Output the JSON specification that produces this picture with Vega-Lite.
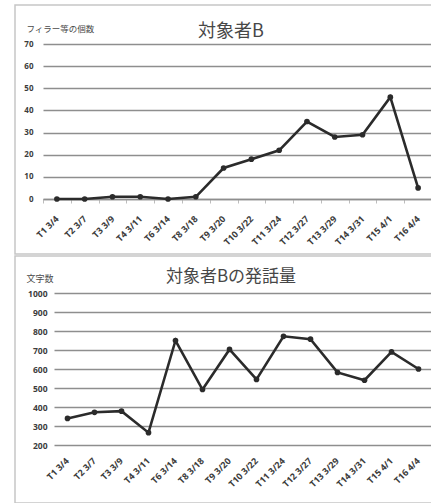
{
  "$schema": "https://vega.github.io/schema/vega-lite/v6.json",
  "padding": {"left": 11, "top": 4, "right": 0, "bottom": 3},
  "spacing": 0,
  "background": "white",
  "data": {
    "values": [
      {"session": "T1 3/4", "fillers": 0, "chars": 340},
      {"session": "T2 3/7", "fillers": 0, "chars": 372},
      {"session": "T3 3/9", "fillers": 1, "chars": 378},
      {"session": "T4 3/11", "fillers": 1, "chars": 265},
      {"session": "T6 3/14", "fillers": 0, "chars": 750},
      {"session": "T8 3/18", "fillers": 1, "chars": 492},
      {"session": "T9 3/20", "fillers": 14, "chars": 703},
      {"session": "T10 3/22", "fillers": 18, "chars": 545},
      {"session": "T11 3/24", "fillers": 22, "chars": 772},
      {"session": "T12 3/27", "fillers": 35, "chars": 757},
      {"session": "T13 3/29", "fillers": 28, "chars": 582},
      {"session": "T14 3/31", "fillers": 29, "chars": 541},
      {"session": "T15 4/1", "fillers": 46, "chars": 690},
      {"session": "T16 4/4", "fillers": 5, "chars": 600}
    ]
  },
  "config": {
    "view": {"stroke": "#c6c6c6", "strokeWidth": 1.5},
    "font": "Noto Sans CJK JP",
    "title": {"font": "Noto Sans CJK JP", "fontWeight": "normal", "color": "#474747", "fontSize": 17, "anchor": "middle", "frame": "group", "baseline": "alphabetic"},
    "axis": {
      "labelFont": "Open Sans",
      "labelFontWeight": "bold",
      "labelFontSize": 8,
      "labelColor": "#3c3c3c",
      "titleFont": "Noto Sans CJK JP",
      "titleFontWeight": "normal",
      "titleColor": "#4a4a4a"
    }
  },
  "vconcat": [
    {
      "width": 420,
      "height": 249,
      "title": {"text": "対象者B", "offset": -36, "dx": 6, "fontSize": 18},
      "encoding": {
        "x": {
          "field": "session",
          "type": "ordinal",
          "sort": null,
          "scale": {"type": "band", "range": [28, 417], "paddingInner": 0, "paddingOuter": 0},
          "axis": {
            "title": null,
            "offset": -55,
            "domainColor": "#8e8e8e",
            "domainWidth": 1.5,
            "tickBand": "extent",
            "tickSize": 4,
            "tickColor": "#bdbdbd",
            "labelAngle": -45,
            "labelAlign": "right",
            "labelBaseline": "middle",
            "labelFontSize": 9,
            "labelPadding": 14
          }
        },
        "y": {
          "field": "fillers",
          "type": "quantitative",
          "scale": {"domain": [0, 70], "range": [194, 39], "nice": false, "zero": true},
          "axis": {
            "values": [0, 10, 20, 30, 40, 50, 60, 70],
            "offset": -28,
            "domain": false,
            "ticks": false,
            "labelPadding": 10,
            "grid": true,
            "gridColor": "#8e8e8e",
            "gridWidth": 1.5,
            "title": "フィラー等の個数",
            "titleAngle": 0,
            "titleAlign": "left",
            "titleBaseline": "alphabetic",
            "titleX": -17,
            "titleY": 26,
            "titleFontSize": 8.5
          }
        }
      },
      "layer": [
        {"mark": {"type": "line", "color": "#2b2b2b", "strokeWidth": 2.6}},
        {"mark": {"type": "point", "filled": true, "color": "#2b2b2b", "opacity": 1, "size": 32}}
      ]
    },
    {
      "width": 420,
      "height": 247,
      "title": {"text": "対象者Bの発話量", "offset": -30, "dx": 6, "fontSize": 17},
      "encoding": {
        "x": {
          "field": "session",
          "type": "ordinal",
          "sort": null,
          "scale": {"type": "band", "range": [39, 417], "paddingInner": 0, "paddingOuter": 0},
          "axis": {
            "title": null,
            "offset": -58,
            "domain": false,
            "ticks": false,
            "labelAngle": -45,
            "labelAlign": "right",
            "labelBaseline": "middle",
            "labelFontSize": 9,
            "labelPadding": 14
          }
        },
        "y": {
          "field": "chars",
          "type": "quantitative",
          "scale": {"domain": [200, 1000], "range": [189, 37], "nice": false, "zero": false},
          "axis": {
            "values": [200, 300, 400, 500, 600, 700, 800, 900, 1000],
            "format": "d",
            "offset": -39,
            "domain": false,
            "ticks": false,
            "labelPadding": 7,
            "labelFontSize": 8.5,
            "grid": true,
            "gridColor": "#8e8e8e",
            "gridWidth": 1.5,
            "title": "文字数",
            "titleAngle": 0,
            "titleAlign": "left",
            "titleBaseline": "alphabetic",
            "titleX": -28,
            "titleY": 25,
            "titleFontSize": 9
          }
        }
      },
      "layer": [
        {"mark": {"type": "line", "color": "#2b2b2b", "strokeWidth": 2.6}},
        {"mark": {"type": "point", "filled": true, "color": "#2b2b2b", "opacity": 1, "size": 32}}
      ]
    }
  ]
}
